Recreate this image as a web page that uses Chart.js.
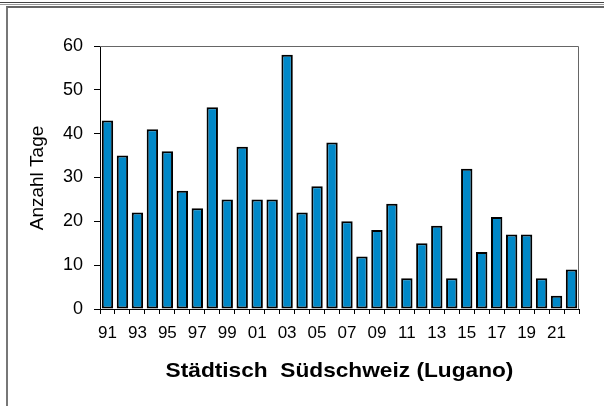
<!DOCTYPE html>
<html>
<head>
<meta charset="utf-8">
<script src="https://cdn.jsdelivr.net/npm/chart.js@4"></script>
<style>
  html, body { margin: 0; padding: 0; background: #fff; }
  body { width: 604px; height: 406px; position: relative; overflow: hidden; }
  #l1 { position: absolute; left: 0; top: 2px; width: 604px; height: 0; border-top: 1px solid #444; }
  #l2 { position: absolute; left: 0; top: 4px; width: 604px; height: 0; border-top: 1px solid #999; }
  #box { position: absolute; left: 6px; top: 6px; width: 700px; height: 500px; border-left: 2px solid #777; border-top: 2px solid #666; }
  #wrap { position: absolute; left: 0; top: 0; width: 604px; height: 406px; }
</style>
</head>
<body>
<div id="l1"></div><div id="l2"></div><div id="box"></div>
<div id="wrap"><canvas id="c" width="604" height="406"></canvas></div>
<script>
const years = ['91','92','93','94','95','96','97','98','99','00','01','02','03','04','05','06',
               '07','08','09','10','11','12','13','14','15','16','17','18','19','20','21','22'];
const values = [43,35,22,41,36,27,23,46,25,37,25,25,58,22,28,38,
                20,12,18,24,7,15,19,7,32,13,21,17,17,7,3,9];
const yTicks = [0,10,20,30,40,50,60];
const yLabel = 'Anzahl Tage';
const chartTitle = 'Städtisch  Südschweiz (Lugano)';

const textPlugin = {
  id: 'texts',
  afterDraw(chart) {
    const ctx = chart.ctx;
    const ca = chart.chartArea;
    const cx = (ca.left + ca.right) / 2;
    ctx.save();
    ctx.fillStyle = '#000';
    ctx.font = 'bold 21px "Liberation Sans", Arial, sans-serif';
    ctx.textAlign = 'center';
    ctx.textBaseline = 'alphabetic';
    ctx.translate(cx, 377);
    ctx.scale(1.08, 1);
    ctx.fillText(chartTitle, 0, 0);
    ctx.restore();

    ctx.save();
    ctx.fillStyle = '#000';
    ctx.translate(38, 178);
    ctx.rotate(-Math.PI / 2);
    ctx.font = '19px "Liberation Sans", Arial, sans-serif';
    ctx.textAlign = 'center';
    ctx.textBaseline = 'middle';
    ctx.fillText(yLabel, 0, 0);
    ctx.restore();

    ctx.save();
    ctx.strokeStyle = '#666';
    ctx.lineWidth = 1;
    ctx.beginPath();
    ctx.moveTo(ca.left, ca.top + 0.5);
    ctx.lineTo(ca.right - 0.5, ca.top + 0.5);
    ctx.lineTo(ca.right - 0.5, ca.bottom);
    ctx.stroke();
    ctx.restore();
  }
};

new Chart(document.getElementById('c'), {
  type: 'bar',
  data: {
    labels: years,
    datasets: [{
      data: values,
      backgroundColor: '#0088C8',
      borderColor: '#000',
      borderWidth: 2,
      borderSkipped: false,
      barPercentage: 0.76,
      categoryPercentage: 1.0
    }]
  },
  options: {
    responsive: false,
    animation: false,
    devicePixelRatio: 1,
    layout: { padding: { top: 46, right: 25, left: 0, bottom: 0 } },
    plugins: { legend: { display: false }, tooltip: { enabled: false }, title: { display: false } },
    scales: {
      x: {
        offset: true,
        grid: { offset: true, drawOnChartArea: false, drawTicks: true, tickLength: 5, color: '#000', lineWidth: 1 },
        border: { display: true, color: '#000', width: 1 },
        ticks: {
          autoSkip: false, maxRotation: 0, minRotation: 0, padding: 9, color: '#000',
          font: { family: '"Liberation Sans", Arial, sans-serif', size: 17 },
          callback: (v, i) => (i % 2 === 0 ? years[i] : '')
        },
        afterFit(scale) { scale.height = 406 - 309; }
      },
      y: {
        min: 0, max: 60,
        grid: { drawOnChartArea: false, drawTicks: true, tickLength: 6, color: '#000', lineWidth: 1 },
        border: { display: true, color: '#000', width: 1 },
        ticks: {
          stepSize: 5, padding: 11, color: '#000',
          font: { family: '"Liberation Sans", Arial, sans-serif', size: 18 },
          callback: (v) => (yTicks.includes(v) ? String(v) : '')
        },
        afterFit(scale) { scale.width = 100; }
      }
    }
  },
  plugins: [textPlugin]
});
</script>
</body>
</html>
